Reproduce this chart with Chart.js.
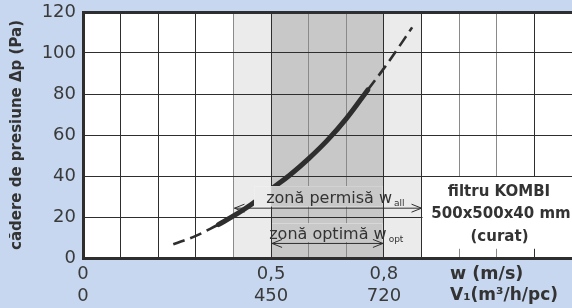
<!DOCTYPE html>
<html lang="ro">

<head>
  <meta charset="UTF-8" />
  <title>filtru KOMBI</title>
  <style>
    * {
      margin: 0;
      padding: 0;
    }

    body {
      background: #c6d7ef;
    }
  </style>
</head>

<body>
  <canvas id="myChart" width="572" height="308"></canvas>
  <script src="https://cdn.jsdelivr.net/npm/chart.js@4.4.1/dist/chart.umd.min.js"></script>
  <script>
    // curve: w (m/s) -> pressure drop (Pa)
    const lowW = [0.24, 0.30, 0.36];
    const lowDp = [6.7, 10.8, 16.3];
    const mainW = [0.36, 0.40, 0.45, 0.50, 0.55, 0.60, 0.65, 0.70, 0.757];
    const mainDp = [16.3, 20.5, 26.5, 33.5, 40.5, 48.5, 57.5, 68, 82];
    const highW = [0.757, 0.80, 0.84, 0.875];
    const highDp = [82, 92.5, 103, 112.5];

    // axis labels
    const wTicks = [0, 0.5, 0.8];
    const wLabels = ["0", "0,5", "0,8"];
    const vLabels = ["0", "450", "720"];

    // zones (m/s)
    const allowedZone = [0.4, 0.9];
    const optimalZone = [0.5, 0.8];

    const BLUE = "#c6d7ef";
    const LIGHT = "#ebebeb";
    const DARK = "#c8c8c8";
    const INK = "#2e2e2e";
    const TEXT = "#333333";
    const FONT = "'DejaVu Sans', sans-serif";

    Chart.defaults.font.family = FONT;
    Chart.defaults.color = TEXT;

    function toPoints(xs, ys) {
      return xs.map((x, i) => ({ x: x, y: ys[i] }));
    }

    function fillBands(chart, x0, y0, x1, y1) {
      const ctx = chart.ctx;
      const a = chart.chartArea;
      const px = (v) => chart.scales.x.getPixelForValue(v);
      ctx.save();
      ctx.beginPath();
      ctx.rect(x0, y0, x1 - x0, y1 - y0);
      ctx.clip();
      ctx.fillStyle = "#ffffff";
      ctx.fillRect(a.left, a.top, a.width, a.height);
      ctx.fillStyle = LIGHT;
      ctx.fillRect(px(allowedZone[0]), a.top, px(allowedZone[1]) - px(allowedZone[0]), a.height);
      ctx.fillStyle = DARK;
      ctx.fillRect(px(optimalZone[0]), a.top, px(optimalZone[1]) - px(optimalZone[0]), a.height);
      ctx.restore();
    }

    function arrow(ctx, x0, x1, y) {
      ctx.save();
      ctx.strokeStyle = INK;
      ctx.lineWidth = 1;
      ctx.beginPath();
      ctx.moveTo(x0, y);
      ctx.lineTo(x1, y);
      ctx.moveTo(x0 + 10, y - 4);
      ctx.lineTo(x0, y);
      ctx.lineTo(x0 + 10, y + 4);
      ctx.moveTo(x1 - 10, y - 4);
      ctx.lineTo(x1, y);
      ctx.lineTo(x1 - 10, y + 4);
      ctx.stroke();
      ctx.restore();
    }

    function zoneText(ctx, x, y, main, sub) {
      ctx.font = "16px " + FONT;
      ctx.fillStyle = TEXT;
      ctx.textAlign = "left";
      ctx.textBaseline = "alphabetic";
      ctx.fillText(main, x, y);
      const w = ctx.measureText(main).width;
      ctx.font = "9px " + FONT;
      ctx.fillText(sub, x + w + 2, y + 3);
    }

    const background = {
      id: "background",
      beforeDraw(chart) {
        const ctx = chart.ctx;
        const a = chart.chartArea;
        ctx.save();
        ctx.fillStyle = BLUE;
        ctx.fillRect(0, 0, chart.width, chart.height);
        ctx.restore();
        fillBands(chart, a.left, a.top, a.right, a.bottom);
      },
      afterDatasetsDraw(chart) {
        const ctx = chart.ctx;
        const a = chart.chartArea;
        const px = (v) => chart.scales.x.getPixelForValue(v);
        const py = (v) => chart.scales.y.getPixelForValue(v);

        // allowed zone label + arrow
        const ay1 = py(24.3);
        fillBands(chart, px(0.455), ay1 - 22, px(0.8) - 1.5, ay1 - 2);
        arrow(ctx, px(allowedZone[0]) + 1, px(allowedZone[1]), ay1);
        zoneText(ctx, px(0.487), ay1 - 5.5, "zonă permisă w", "all");

        // optimal zone label + arrow
        const ay2 = py(7.1);
        fillBands(chart, px(0.5) + 1, ay2 - 20, px(0.8) - 1.5, ay2 - 1.5);
        arrow(ctx, px(optimalZone[0]) + 1, px(optimalZone[1]) - 1, ay2);
        zoneText(ctx, px(0.495), ay2 - 4.5, "zonă optimă w", "opt");

        // filter caption box
        const bx = px(0.9) + 1;
        ctx.save();
        ctx.fillStyle = "#ffffff";
        ctx.fillRect(bx, py(40) + 1, a.right - bx, py(4.5) - py(40) - 1);
        ctx.fillStyle = TEXT;
        ctx.font = "bold 15px " + FONT;
        ctx.textAlign = "center";
        ctx.textBaseline = "middle";
        ctx.fillText("filtru KOMBI", 499, 192);
        ctx.fillText("500x500x40 mm", 501, 214.5);
        ctx.fillText("(curat)", 499.5, 237);
        ctx.restore();
      },
      afterDraw(chart) {
        const ctx = chart.ctx;
        ctx.save();
        ctx.fillStyle = TEXT;
        ctx.font = "bold 17.5px " + FONT;
        ctx.textAlign = "left";
        ctx.textBaseline = "middle";
        ctx.fillText("w (m/s)", 450, 274);
        ctx.font = "bold 17px " + FONT;
        ctx.fillText("V₁(m³/h/pc)", 450, 296);
        ctx.restore();
      },
    };

    const data = {
      datasets: [
        {
          label: "lower",
          data: toPoints(lowW, lowDp),
          borderColor: INK,
          borderWidth: 2.6,
          borderDash: [12, 6],
        },
        {
          label: "main",
          data: toPoints(mainW, mainDp),
          borderColor: INK,
          borderWidth: 5,
          borderCapStyle: "round",
        },
        {
          label: "upper",
          data: toPoints(highW, highDp),
          borderColor: INK,
          borderWidth: 2.6,
          borderDash: [12, 6],
        },
      ],
    };

    const options = {
      responsive: false,
      animation: false,
      layout: {
        padding: { top: 12, right: 0, bottom: 0, left: 0 },
      },
      elements: {
        point: { radius: 0 },
        line: { tension: 0.4 },
      },
      plugins: {
        legend: { display: false },
        tooltip: { enabled: false },
      },
      scales: {
        x: {
          type: "linear",
          min: 0,
          max: 1.3,
          afterFit: (scale) => {
            scale.height = 50;
            scale.paddingLeft = 0;
            scale.paddingRight = 0;
          },
          border: { display: true, width: 3, color: INK },
          grid: {
            drawTicks: false,
            lineWidth: 1,
            color: (ctx) => {
              const k = Math.round(ctx.tick.value * 10);
              if (k === 13) return "rgba(0,0,0,0)";
              if ([4, 6, 7, 10, 11].includes(k)) return "#8a8a8a";
              return INK;
            },
          },
          ticks: {
            stepSize: 0.1,
            autoSkip: false,
            maxRotation: 0,
            minRotation: 0,
            padding: 5,
            color: "#3a3a3a",
            font: { size: 18, lineHeight: 1.22 },
            callback: (value) => {
              const i = wTicks.findIndex((t) => Math.abs(t - value) < 1e-6);
              return i < 0 ? "" : [wLabels[i], vLabels[i]];
            },
          },
        },
        y: {
          min: 0,
          max: 120,
          afterFit: (scale) => {
            scale.width = 83;
            scale.paddingTop = 0;
            scale.paddingBottom = 0;
          },
          border: { display: true, width: 3, color: INK },
          grid: {
            drawTicks: false,
            color: INK,
            lineWidth: (ctx) => (ctx.tick.value === 120 ? 3 : 1),
          },
          ticks: {
            stepSize: 20,
            padding: 7,
            color: "#3a3a3a",
            font: { size: 18 },
          },
          title: {
            display: true,
            text: "cădere de presiune Δp (Pa)",
            color: TEXT,
            padding: { top: 8, bottom: 0 },
            font: { size: 15, weight: "bold" },
          },
        },
      },
    };

    const ctx = document.getElementById("myChart").getContext("2d");
    const myChart = new Chart(ctx, {
      type: "line",
      data: data,
      options: options,
      plugins: [background],
    });
  </script>
</body>

</html>
